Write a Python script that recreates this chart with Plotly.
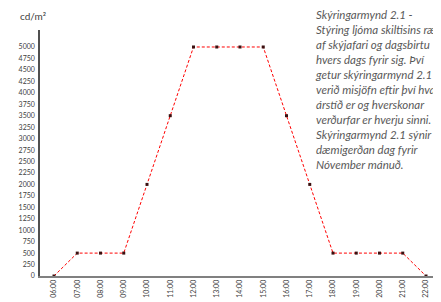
import plotly.graph_objects as go

hours = ["06:00", "07:00", "08:00", "09:00", "10:00", "11:00", "12:00", "13:00",
         "14:00", "15:00", "16:00", "17:00", "18:00", "19:00", "20:00", "21:00", "22:00"]
luminance = [0, 500, 500, 500, 2000, 3500, 5000, 5000, 5000, 5000, 3500, 2000,
             500, 500, 500, 500, 0]
y_ticks = list(range(0, 5001, 250))

note_lines = [
    "Skýringarmynd 2.1 -",
    "Stýring ljóma skiltisins ræðst",
    "af skýjafari og dagsbirtu",
    "hvers dags fyrir sig. Því",
    "getur skýringarmynd 2.1",
    "verið misjöfn eftir því hvað",
    "árstíð er og hverskonar",
    "verðurfar er hverju sinni.",
    "Skýringarmynd 2.1 sýnir",
    "dæmigerðan dag fyrir",
    "Nóvember mánuð.",
]

W, H = 441, 302
ml, mr, mt, mb = 32, 12, 22, 34
PW, PH = W - ml - mr, H - mt - mb
xpos = list(range(len(hours)))

fig = go.Figure()
fig.add_trace(go.Scatter(
    x=xpos, y=luminance, mode="lines+markers",
    line=dict(color="#ff0000", width=1, dash="3px,2px"),
    marker=dict(symbol="square", size=3, color="#3a1010"),
    showlegend=False, cliponaxis=False,
))

fig.update_layout(
    width=W, height=H,
    margin=dict(l=ml, r=mr, t=mt, b=mb, pad=0, autoexpand=False),
    paper_bgcolor="white", plot_bgcolor="white",
    font=dict(family="Lato, Open Sans, sans-serif", color="#404040"),
    xaxis=dict(
        range=[-0.602, 16.473], tickmode="array", tickvals=xpos, ticktext=hours,
        tickangle=-90, tickfont=dict(size=7, color="#404040"),
        showgrid=False, zeroline=False, showline=True, linecolor="#808080", linewidth=2,
        ticks="", ticklabelstandoff=-1, automargin=False,
    ),
    yaxis=dict(
        range=[0, 5371], tickmode="array", tickvals=y_ticks,
        tickfont=dict(size=7, color="#404040"),
        showgrid=False, zeroline=False, showline=True, linecolor="#505050", linewidth=1.5,
        ticks="", ticklabelstandoff=2, automargin=False,
    ),
)

def px_x(p):
    return (p - ml) / PW

def px_y(p):
    return (H - mb - p) / PH

fig.add_annotation(
    xref="paper", yref="paper", x=px_x(10), y=px_y(0), xanchor="left", yanchor="top",
    text="cd/m²", showarrow=False, font=dict(size=10, color="#404040"),
)
fig.add_annotation(
    xref="paper", yref="paper", x=px_x(431), y=px_y(285), xanchor="left", yanchor="middle",
    text="kl", showarrow=False, font=dict(size=11, color="#404040"),
)
fig.add_annotation(
    xref="paper", yref="paper", x=px_x(305), y=px_y(-2), xanchor="left", yanchor="top",
    text="<br>".join(note_lines), align="left", showarrow=False,
    font=dict(size=11.5, color="#595959", style="italic"),
)

fig.write_html("out.html")
